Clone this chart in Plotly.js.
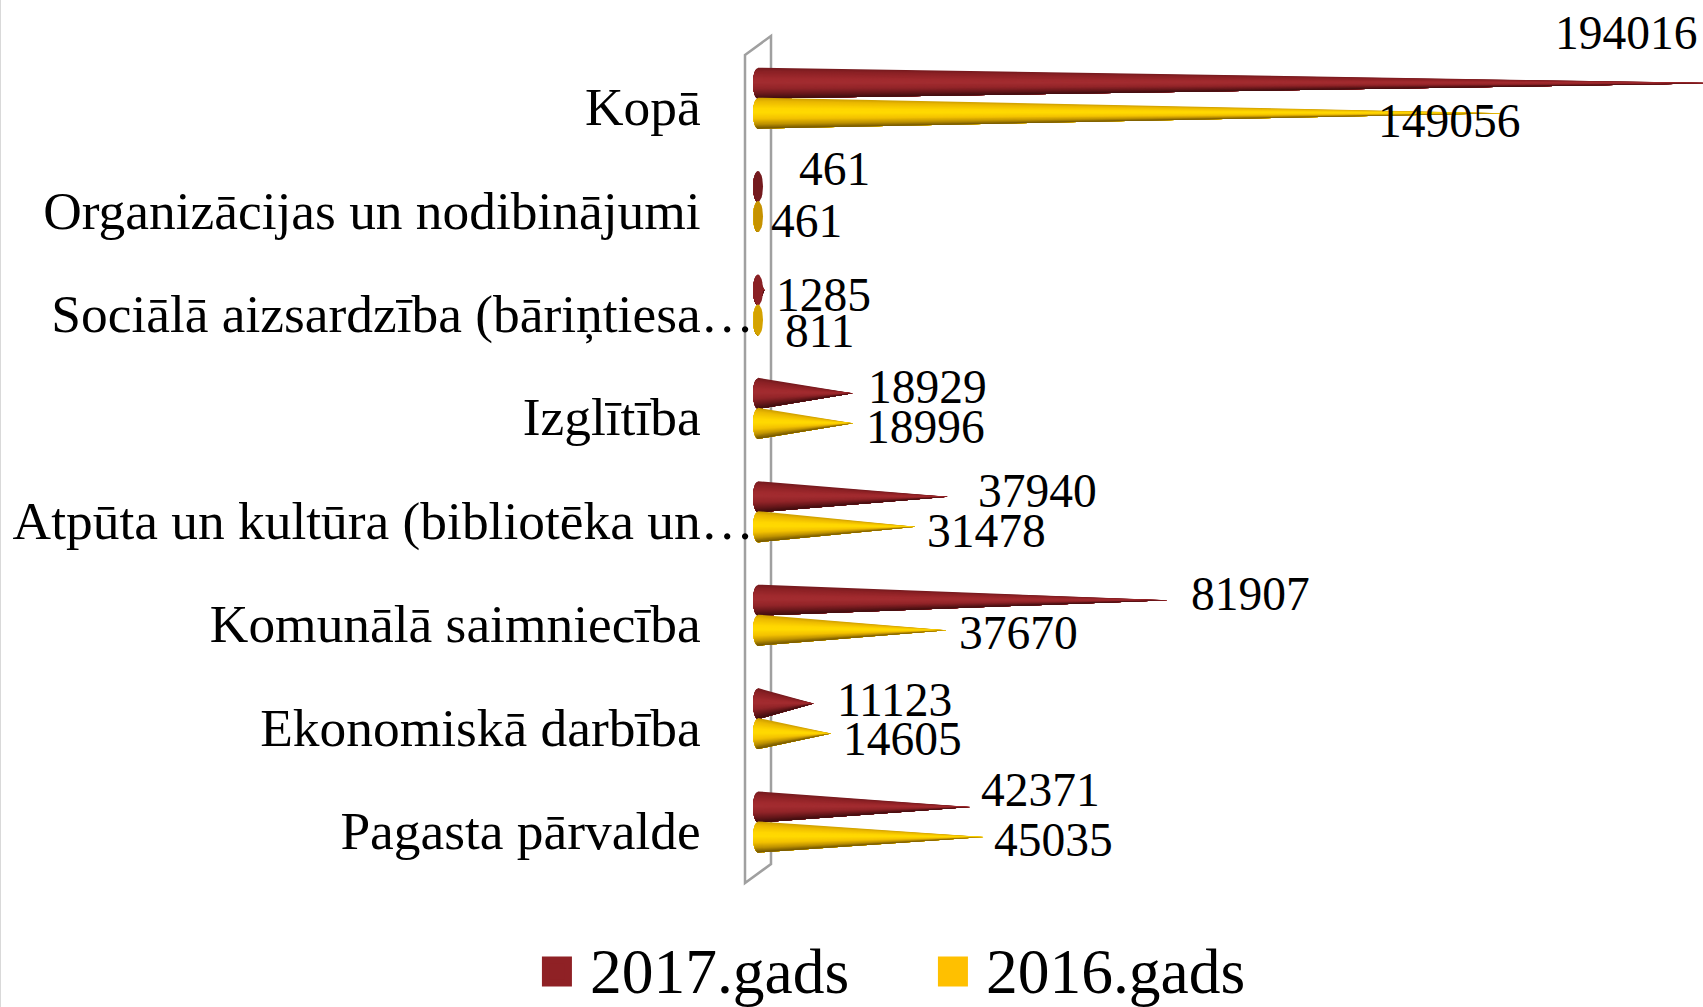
<!DOCTYPE html>
<html><head><meta charset="utf-8">
<script src="https://cdn.plot.ly/plotly-3.0.1.min.js"></script>
<style>html,body{margin:0;padding:0;background:#fff;overflow:hidden}</style>
</head><body><div id="chart" style="width:1703px;height:1007px"></div>
<script>
var NB = '\u00A0\u00A0\u00A0\u00A0';
// bottom-to-top order
var categories = ['Pagasta pārvalde'+NB,'Ekonomiskā darbība'+NB,'Komunālā saimniecība'+NB,'Atpūta un kultūra (bibliotēka un…','Izglītība'+NB,'Sociālā aizsardzība (bāriņtiesa…','Organizācijas un nodibinājumi'+NB,'Kopā'+NB];
var values2017 = [42371,11123,81907,37940,18929,1285,461,194016];
var values2016 = [45035,14605,37670,31478,18996,811,461,149056];
var seriesNames = ['2017.gads','2016.gads'];
// label anchors (data units on x, category units on y)
var labelX2017 = [56400,27200,98400,55800,33800,13100,15200,173500];
var labelY2017 = [0.406,1.280,2.298,3.298,4.307,5.195,6.414,7.729];
var labelX2016 = [59000,28800,52000,45600,33400,12400,9600,138200];
var labelY2016 = [-0.077,0.897,1.928,2.911,3.920,4.847,5.912,6.880];

var capRx = 1000, halfH = 0.15, offs = [0.242,-0.048], tickLift = 0.016;
// shading stops: position across the cone (1 = top, -1 = bottom) and colour
var stops = [
  [[1,[116,26,30]],[0.75,[140,33,37]],[0.3,[160,42,46]],[0.05,[163,44,48]],[-0.35,[146,37,41]],[-0.7,[104,24,27]],[-1,[62,13,15]]],
  [[1,[205,158,0]],[0.75,[236,186,0]],[0.3,[255,214,0]],[0.05,[255,218,0]],[-0.35,[244,194,0]],[-0.7,[190,146,0]],[-1,[112,84,0]]]
];
var layers = 30;
function shade(s,t){
  var st=stops[s];
  for(var i=0;i<st.length-1;i++){
    if(t<=st[i][0]&&t>=st[i+1][0]){
      var f=(st[i][0]-t)/(st[i][0]-st[i+1][0]);
      var c=st[i][1].map(function(a,k){return Math.round(a+(st[i+1][1][k]-a)*f);});
      return 'rgb('+c.join(',')+')';
    }
  }
  return 'rgb('+st[st.length-1][1].join(',')+')';
}
var capDark = ['#741a1e','#c69200'], capLight = ['#8a2024','#d4a200'];
var data = [];
function cone(v,cy,a){ // everything of a cone below radial fraction a
  var xs=[],ys=[],n=10,i,t,b=-1;
  for(i=0;i<=n;i++){t=a+(b-a)*i/n; xs.push(-capRx*Math.sqrt(Math.max(0,1-t*t))); ys.push(cy+halfH*t);}
  xs.push(v); ys.push(cy); xs.push(-capRx*Math.sqrt(Math.max(0,1-a*a))); ys.push(cy+halfH*a);
  xs.push(null); ys.push(null);
  return [xs,ys];
}
function caps(vals,s,test,color){
  var cx=[],cy=[];
  vals.forEach(function(v,i){ if(test(v)){ for(var k=0;k<=24;k++){var a=k/24*2*Math.PI; cx.push(capRx*Math.cos(a)); cy.push(i+offs[s]+halfH*Math.sin(a));} cx.push(null);cy.push(null);} });
  data.push({x:cx,y:cy,mode:'lines',fill:'toself',fillcolor:color,line:{width:0},showlegend:false,hoverinfo:'skip'});
}
[values2017,values2016].forEach(function(vals,s){
  for(var j=0;j<layers;j++){
    var a=1-2*j/layers, X=[],Y=[];
    vals.forEach(function(v,i){
      var st=cone(v,i+offs[s],a);
      X=X.concat(st[0]);Y=Y.concat(st[1]);
    });
    var col=shade(s,a-1/layers);
    data.push({x:X,y:Y,mode:'lines',fill:'toself',fillcolor:col,line:{width:0,color:col},showlegend:false,hoverinfo:'skip'});
  }
  caps(vals,s,function(v){return v<500;},capDark[s]);
  caps(vals,s,function(v){return v>=500&&v<2000;},capLight[s]);
});
// legend entries
var legendColors=['#8f2125','#ffc000'];
seriesNames.forEach(function(n,s){
  data.push({x:[null],y:[null],type:'scatter',mode:'markers',name:n,marker:{symbol:'square',size:16,color:legendColors[s],line:{width:5,color:legendColors[s]}},hoverinfo:'skip'});
});
var annotations=[];
function addLabels(vals,lx,ly){vals.forEach(function(v,i){annotations.push({x:lx[i],y:ly[i],xref:'x',yref:'y',text:String(v),showarrow:false,xanchor:'center',yanchor:'middle',font:{family:'Liberation Serif',size:47.5,color:'#000'}});});}
addLabels(values2017,labelX2017,labelY2017);
addLabels(values2016,labelX2016,labelY2016);
var L=751,W=952;
function px(p){return ((p-L)/W).toFixed(5);}
var T=20,H=880;
function py(p){return (1-(p-T)/H).toFixed(5);}
var wall='M '+px(745)+' '+py(55)+' L '+px(771)+' '+py(36)+' L '+px(771)+' '+py(864)+' L '+px(745)+' '+py(883)+' Z';
var layout={
  width:1703,height:1007,paper_bgcolor:'#fff',plot_bgcolor:'rgba(0,0,0,0)',
  margin:{l:L,r:0,t:T,b:1007-T-H},
  font:{family:'Liberation Serif',color:'#000'},
  xaxis:{range:[-1400,188800],showgrid:false,zeroline:false,showline:false,showticklabels:false,ticks:''},
  yaxis:{range:[-0.658,7.853],tickmode:'array',tickvals:categories.map(function(c,i){return i+tickLift;}),ticktext:categories,showgrid:false,zeroline:false,showline:false,ticks:'',tickfont:{family:'Liberation Serif',size:53.4,color:'#000'},automargin:false,ticklabelstandoff:-4},
  shapes:[{type:'path',xref:'paper',yref:'paper',path:wall,line:{color:'#a0a0a0',width:2.5},layer:'below'},
          {type:'line',xref:'paper',yref:'paper',x0:px(0.5),x1:px(0.5),y0:py(0),y1:py(1007),line:{color:'#d9d9d9',width:1},layer:'below'}],
  annotations:annotations,
  showlegend:true,
  legend:{orientation:'h',x:-0.2,xanchor:'left',y:0,yanchor:'top',font:{family:'Liberation Serif',size:63.5,color:'#000'},itemwidth:56,entrywidth:325,entrywidthmode:'pixels',bgcolor:'rgba(0,0,0,0)',borderwidth:0,traceorder:'normal',itemclick:false,itemdoubleclick:false}
};
Plotly.newPlot('chart',data,layout,{staticPlot:true,displayModeBar:false}).then(function(){
  var lg=document.querySelector('.legend');
  if(!lg) return;
  var base=lg.getAttribute('transform')||'';
  var m=base.match(/translate\(\s*([-\d.]+)[ ,]+([-\d.]+)/);
  var tx=m?+m[1]:0, ty=m?+m[2]:0;
  var paths=lg.querySelectorAll('.legendpoints path');
  // legend swatches are 30 px squares in the reference; plotly caps them at 21
  paths.forEach(function(p){
    var t=p.getAttribute('transform')||'';
    p.setAttribute('transform','translate(0,3.5) '+t+' scale('+(30/21)+')');
  });
  var b=paths[0].getBoundingClientRect();
  lg.setAttribute('transform','translate('+(tx+545.5-b.left)+','+(ty+960-b.top)+')');
  var sb=lg.querySelector('.scrollbox'); if(sb) sb.removeAttribute('clip-path');
});
</script></body></html>
